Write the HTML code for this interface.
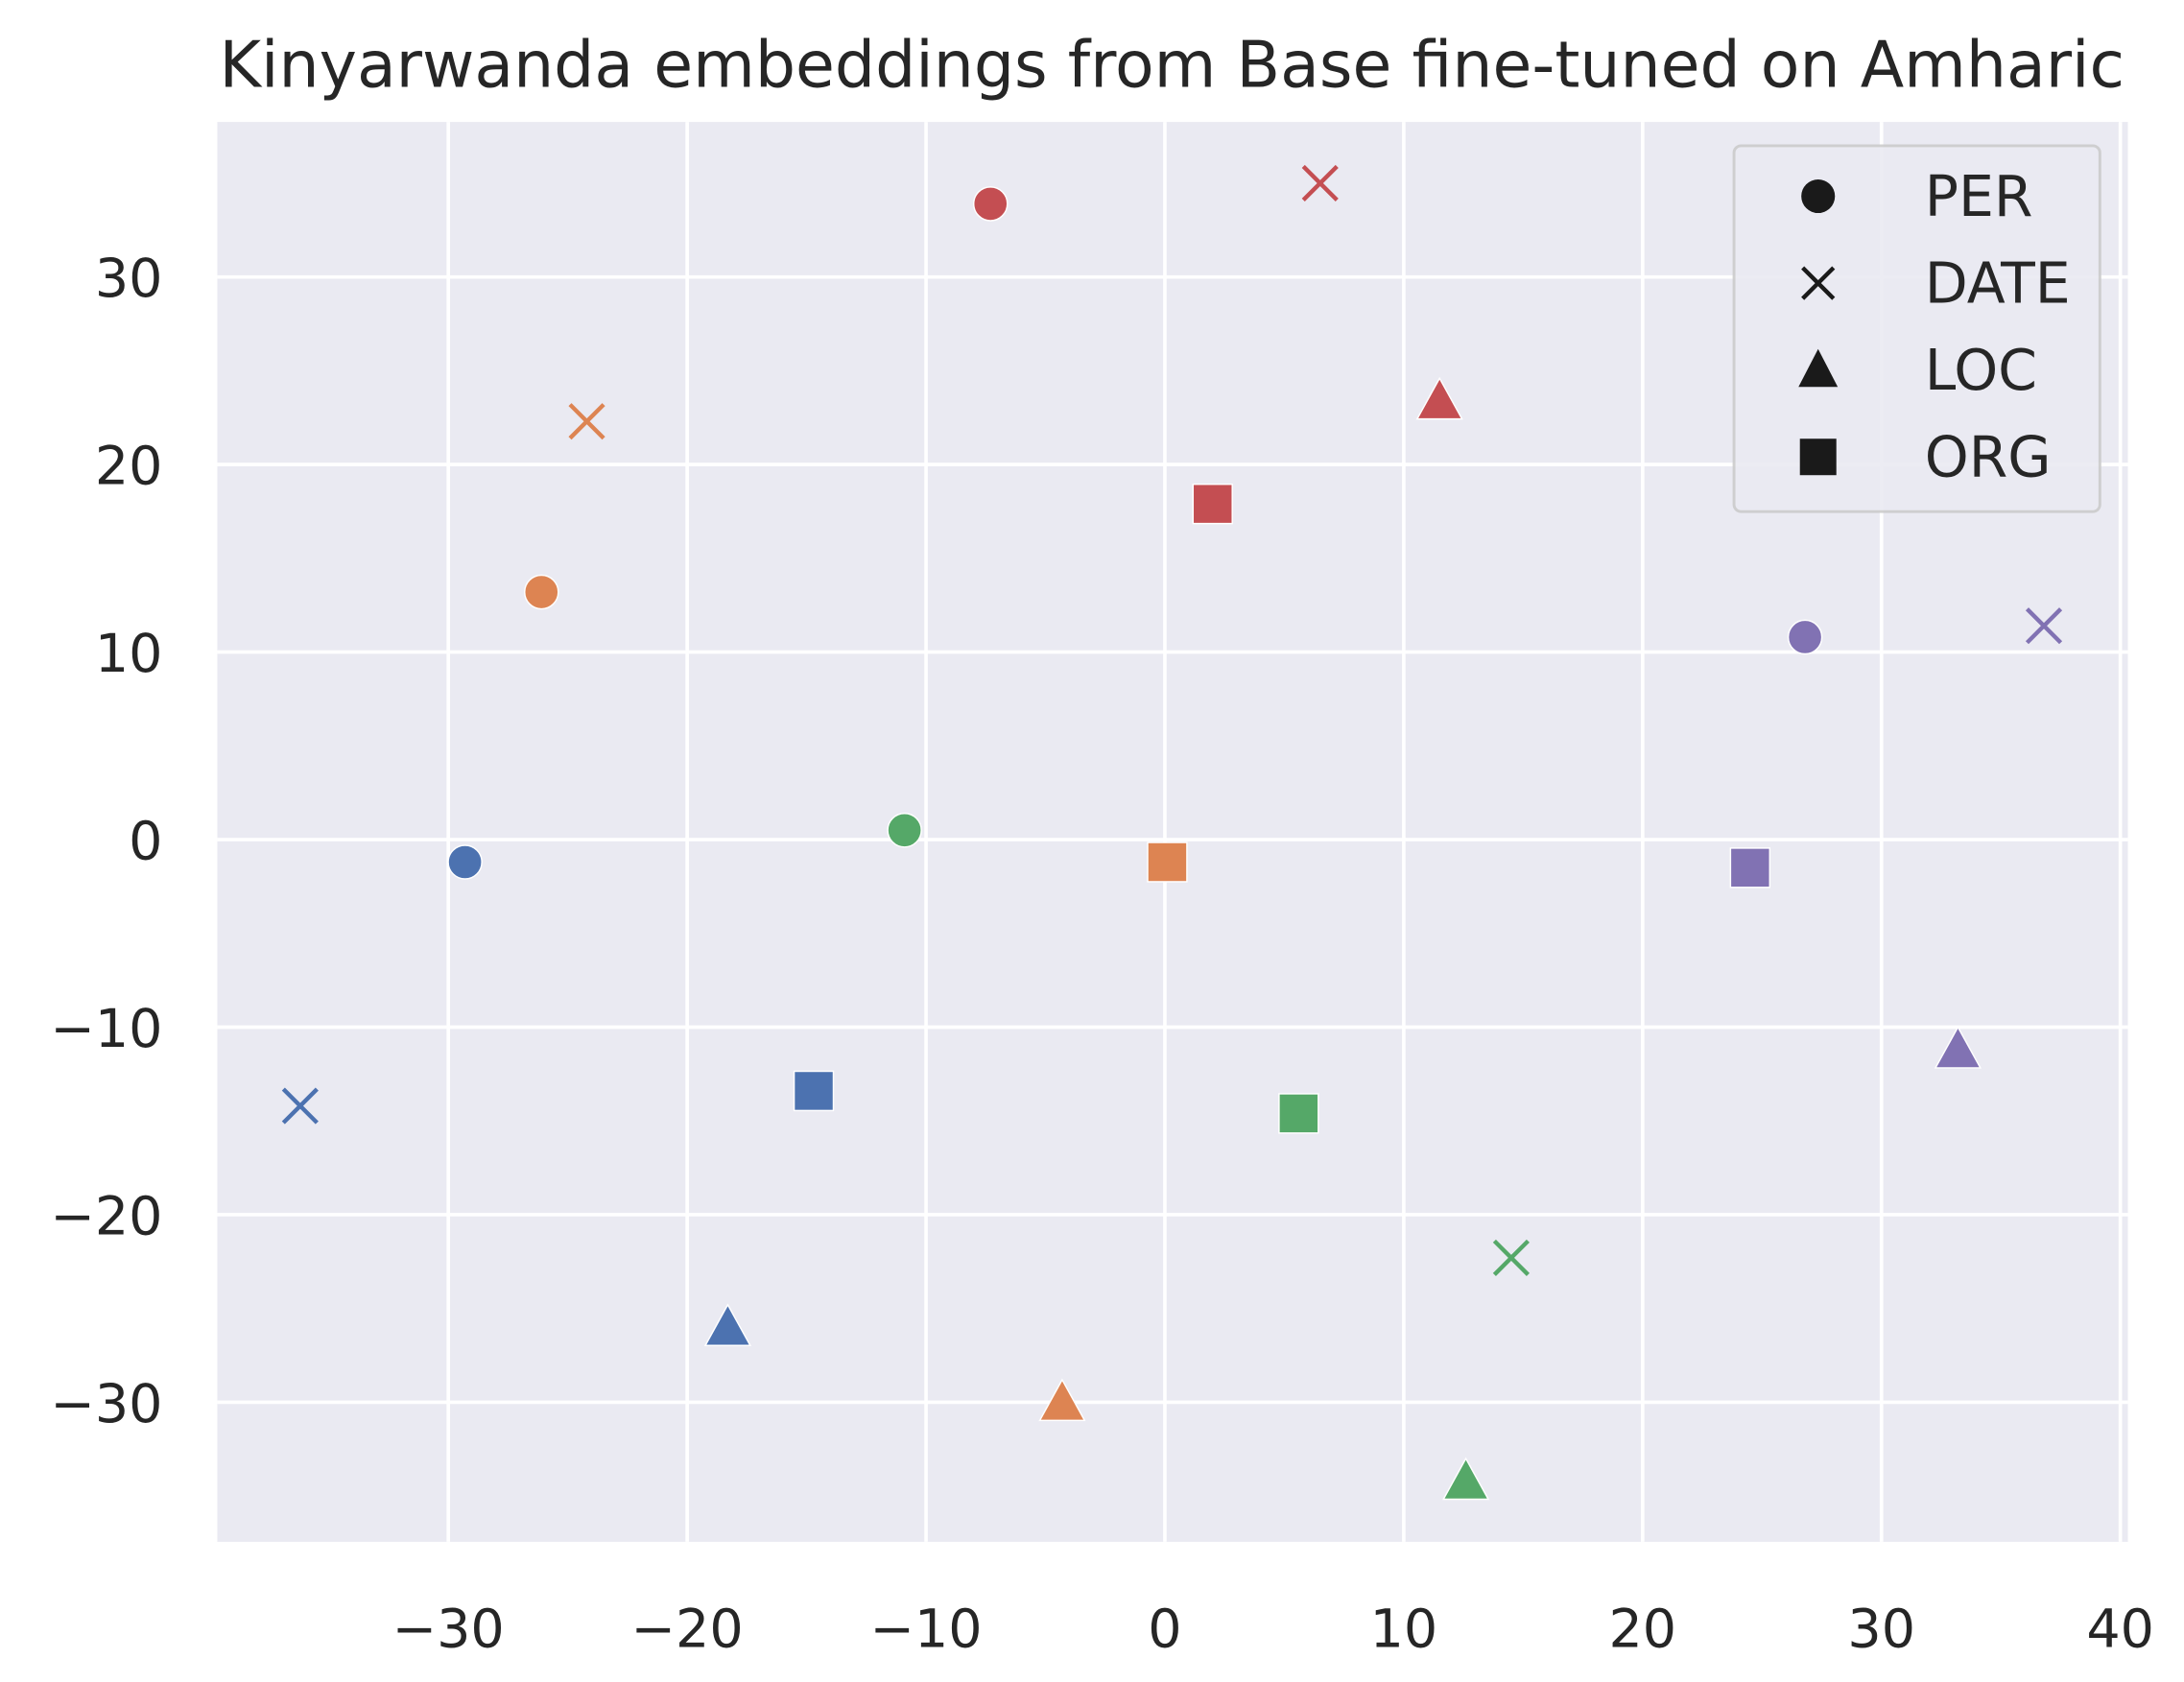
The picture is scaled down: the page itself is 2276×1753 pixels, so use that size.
<!DOCTYPE html>
<html><head><meta charset="utf-8"><style>
html,body{margin:0;padding:0;background:#fff;}
svg{display:block;font-family:"DejaVu Sans","Liberation Sans",sans-serif;}
</style></head><body>
<svg id="chart" width="2276" height="1753" viewBox="0 0 1558 1200" xmlns="http://www.w3.org/2000/svg">
<text x="836" y="62" font-size="45.5" text-anchor="middle" fill="#262626">Kinyarwanda embeddings from Base fine-tuned on Amharic</text>
<rect x="155" y="87" width="1363" height="1013" fill="#eaeaf2"/>
<g id="grid"></g>
<g id="ticks"></g>
<g id="marks"></g>
<g>
<rect x="1237" y="104" width="261" height="261" rx="5" fill="#eaeaf2" stroke="#cccccc" stroke-width="2" opacity="0.9"/>
<circle cx="1297" cy="140" r="12" fill="#1a1a1a"/>
<text x="1373" y="154" font-size="40" fill="#262626">PER</text>
<path d="M1286,191 L1308,213 M1308,191 L1286,213" stroke="#1a1a1a" stroke-width="3"/>
<text x="1373" y="216" font-size="40" fill="#262626">DATE</text>
<polygon points="1297,249 1311,276 1283,276" fill="#1a1a1a"/>
<text x="1373" y="278" font-size="40" fill="#262626">LOC</text>
<rect x="1284" y="313" width="26" height="26" fill="#1a1a1a"/>
<text x="1373" y="340" font-size="40" fill="#262626">ORG</text>
</g>
</svg>
<script>
const xTicks=[-30,-20,-10,0,10,20,30,40];
const yTicks=[-30,-20,-10,0,10,20,30];
const colors=["#4c72b0","#dd8452","#55a868","#c44e52","#8172b3"];
const perX=[-29.3,-26.1,-10.9,-7.3,26.8];
const perY=[-1.2,13.2,0.5,33.9,10.8];
const dateX=[-36.2,-24.2,14.5,6.5,36.8];
const dateY=[-14.2,22.3,-22.3,35.0,11.4];
const locX=[-18.3,-4.3,12.6,11.5,33.2];
const locY=[-26.0,-30.0,-34.2,23.4,-11.2];
const orgX=[-14.7,0.1,5.6,2.0,24.5];
const orgY=[-13.4,-1.2,-14.6,17.9,-1.5];
const NS="http://www.w3.org/2000/svg";
const sx=v=>831+v*17.04;
const sy=v=>599-v*13.38;
function mk(tag,attrs,parent){const e=document.createElementNS(NS,tag);for(const k in attrs)e.setAttribute(k,attrs[k]);document.getElementById(parent).appendChild(e);return e;}
xTicks.forEach(t=>{
 const l=mk("line",{x1:sx(t),x2:sx(t),y1:87,y2:1100,stroke:"#fff","stroke-width":2.5},"grid");
 
 
 const tx=mk("text",{x:sx(t),y:1175,"font-size":38,"text-anchor":"middle",fill:"#262626"},"ticks");
 tx.textContent=(t<0?"\u2212"+(-t):t);
 
 
});
yTicks.forEach(t=>{
 const l=mk("line",{x1:155,x2:1518,y1:sy(t),y2:sy(t),stroke:"#fff","stroke-width":2.5},"grid");
 
 
 const tx=mk("text",{x:116,y:sy(t)+14,"font-size":38,"text-anchor":"end",fill:"#262626"},"ticks");
 tx.textContent=(t<0?"\u2212"+(-t):t);
 
 
});
for(let i=0;i<5;i++){
 let e=mk("circle",{cx:sx(perX[i]),cy:sy(perY[i]),r:12,fill:colors[i],stroke:"#fff","stroke-width":1},"marks");
 
 
 const dx=sx(dateX[i]),dy=sy(dateY[i]);
 e=mk("path",{d:`M${dx-12},${dy-12}L${dx+12},${dy+12}M${dx+12},${dy-12}L${dx-12},${dy+12}`,stroke:colors[i],"stroke-width":3},"marks");
 
 
 const lx=sx(locX[i]),ly=sy(locY[i]);
 e=mk("polygon",{points:`${lx},${ly-16} ${lx+16},${ly+13} ${lx-16},${ly+13}`,fill:colors[i],stroke:"#fff","stroke-width":1},"marks");
 
 
 e=mk("rect",{x:sx(orgX[i])-14,y:sy(orgY[i])-14,width:28,height:28,fill:colors[i],stroke:"#fff","stroke-width":1},"marks");
 
 
}
</script>
</body></html>
